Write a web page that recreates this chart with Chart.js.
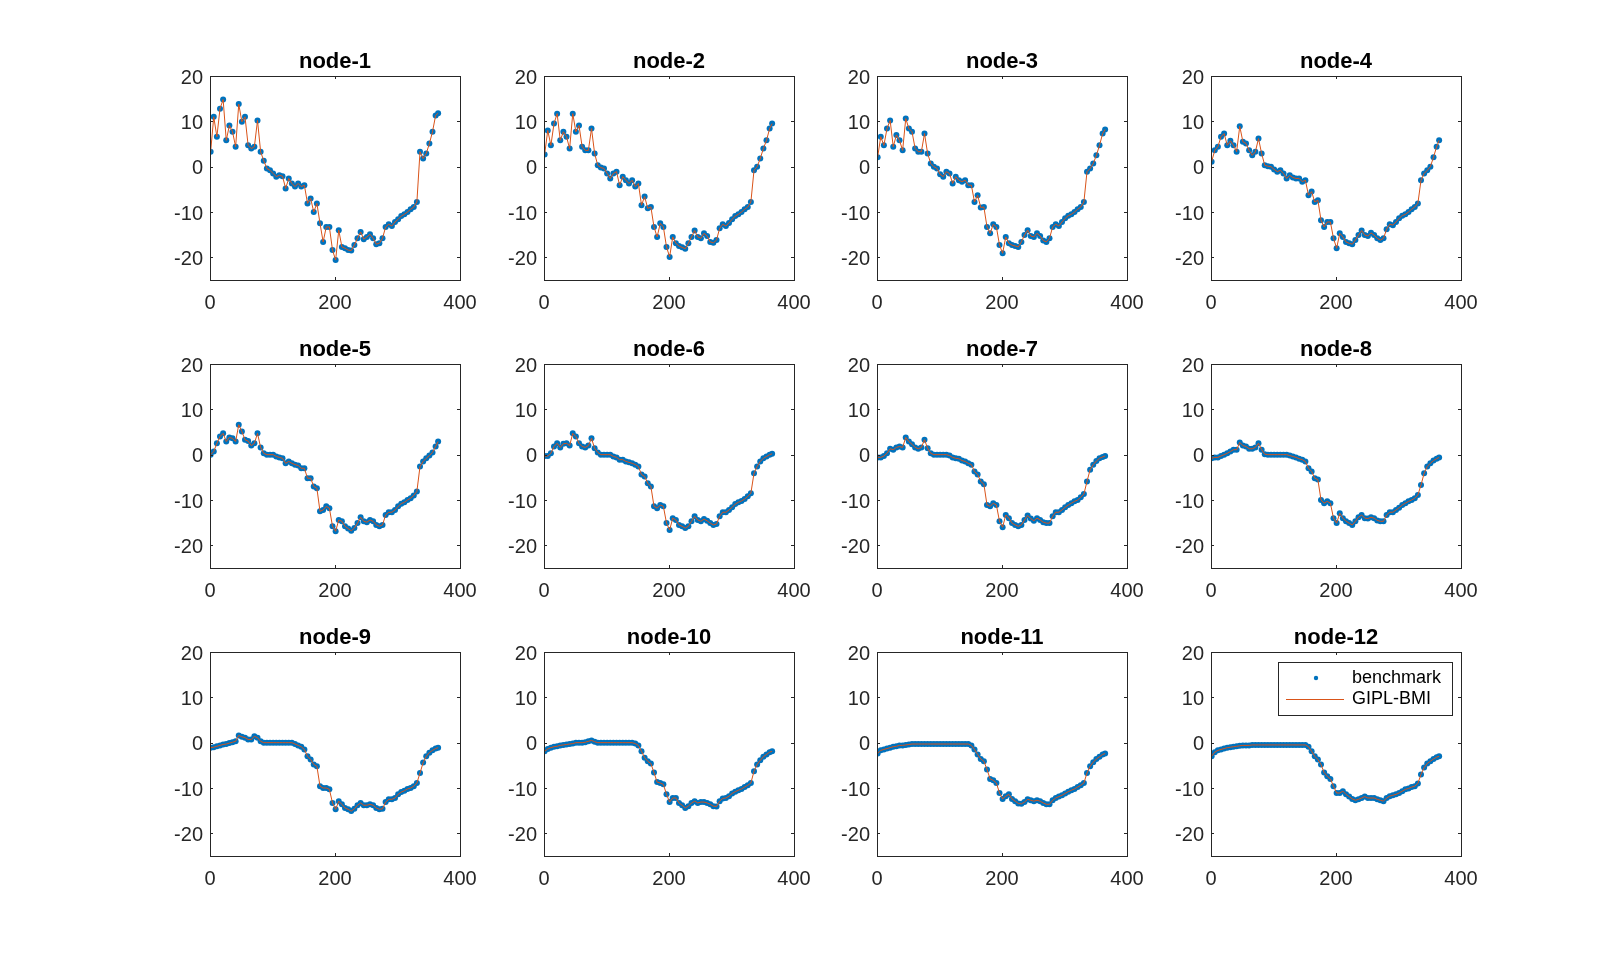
<!DOCTYPE html>
<html>
<head>
<meta charset="utf-8">
<title>node-1 ... node-12</title>
<script src="https://cdn.jsdelivr.net/npm/chart.js@4.4.1/dist/chart.umd.min.js"></script>
<style>
    html, body { margin: 0; padding: 0; background: #ffffff; }
    #figure { position: relative; width: 1618px; height: 962px; overflow: hidden; }
    #figure canvas { position: absolute; }
</style>
</head>
<body>
<div id="figure"></div>
<script>

// DAYS (x values, sampled every 5 days)
const days = [
    1, 6, 11, 16, 21, 26, 31, 36, 41, 46, 51, 56, 61, 66, 71, 76, 81, 86, 91, 96,
    101, 106, 111, 116, 121, 126, 131, 136, 141, 146, 151, 156, 161, 166, 171, 176, 181, 186, 191, 196,
    201, 206, 211, 216, 221, 226, 231, 236, 241, 246, 251, 256, 261, 266, 271, 276, 281, 286, 291, 296,
    301, 306, 311, 316, 321, 326, 331, 336, 341, 346, 351, 356, 361, 365
];

// NODE VALUES
const node1 = [
    3.3, 11, 6.6, 12.8, 14.8, 5.8, 9.1, 7.7, 4.4, 13.8,
    9.9, 11, 4.7, 4, 4.4, 10.2, 3.3, 1.3, -0.4, -0.8,
    -1.5, -2.2, -1.9, -2.1, -4.8, -2.6, -3.7, -4.4, -3.7, -4.4,
    -4.1, -8.1, -7, -10, -8.1, -12.5, -16.6, -13.3, -13.3, -18.4,
    -20.6, -14, -17.7, -18, -18.4, -18.5, -17.3, -15.8, -14.4, -16,
    -15.5, -14.9, -15.8, -17.1, -16.9, -15.8, -13.3, -12.7, -13.1, -12.2,
    -11.6, -10.9, -10.5, -10, -9.4, -8.9, -7.8, 3.3, 1.8, 2.9,
    5.1, 7.7, 11.3, 11.8
];

const node2 = [
    2.7, 8, 4.7, 9.5, 11.7, 5.8, 7.7, 6.6, 4, 11.7,
    7.7, 9.1, 4.4, 3.6, 3.6, 8.4, 2.9, 0.3, -0.2, -0.4,
    -1.5, -2.6, -1.5, -1.1, -4.1, -2.2, -3, -3.7, -3, -4.4,
    -3.7, -8.5, -6.6, -9.2, -8.9, -13.3, -15.5, -12.5, -13.3, -17.7,
    -19.9, -15.5, -16.9, -17.5, -17.8, -18.1, -16.9, -15.5, -14.1, -15.5,
    -15.8, -14.7, -15.3, -16.6, -16.8, -16.2, -13.6, -12.7, -13.1, -12.4,
    -11.6, -10.9, -10.5, -10, -9.4, -8.9, -7.8, -0.8, 0, 1.8,
    4, 5.8, 8.4, 9.5
];

const node3 = [
    2.1, 6.6, 4.7, 8.4, 10.2, 4.4, 7, 5.8, 3.6, 10.6,
    8.4, 7.7, 4, 3.3, 3.3, 7.3, 2.9, 0.7, 0, -0.4,
    -1.7, -2.2, -1.1, -1.5, -3.7, -2.2, -3, -3.3, -3, -4.1,
    -4.1, -7.8, -6.3, -9, -8.9, -13.3, -14.7, -12.7, -13.3, -17.3,
    -19.1, -15.5, -16.9, -17.3, -17.5, -17.7, -16.6, -15.1, -14, -15.3,
    -15.5, -14.7, -15.3, -16.3, -16.6, -15.8, -13.3, -12.7, -13.1, -12.2,
    -11.4, -10.8, -10.5, -10, -9.4, -8.9, -7.8, -1.1, -0.4, 0.7,
    2.5, 4.7, 7.3, 8.2
];

const node4 = [
    1.1, 3.6, 4.4, 6.6, 7.3, 4.7, 5.7, 4.7, 3.3, 8.9,
    5.5, 5.1, 3.6, 2.5, 3.3, 6.2, 2.9, 0.3, 0.1, 0,
    -0.6, -1.1, -0.8, -1.5, -2.6, -1.9, -2.4, -2.6, -2.6, -3.3,
    -3, -6.3, -5.5, -7.8, -7.4, -11.8, -13.3, -12.2, -12.2, -15.8,
    -18, -14.7, -15.5, -16.6, -16.9, -17.1, -16.2, -15.1, -14.1, -15.1,
    -15.3, -14.6, -15.1, -15.8, -16.2, -15.8, -13.8, -12.7, -12.9, -12.2,
    -11.4, -10.8, -10.5, -10, -9.4, -8.9, -8.1, -3, -1.5, -0.8,
    0, 2.1, 4.4, 5.8
];

const node5 = [
    0, 0.7, 2.5, 4, 4.7, 2.9, 3.8, 3.6, 2.9, 6.6,
    5.1, 3.3, 3, 2, 2.5, 4.7, 1.6, 0.3, 0, 0,
    0, -0.4, -0.6, -0.8, -1.9, -1.5, -1.9, -2.2, -2.4, -3,
    -3, -5.2, -5.2, -7, -7.4, -12.5, -12.2, -11.4, -11.8, -15.8,
    -16.9, -14.4, -14.7, -15.8, -16.3, -16.8, -16.2, -15.1, -13.8, -14.7,
    -14.9, -14.4, -14.7, -15.5, -15.8, -15.5, -13.3, -12.7, -12.7, -12.2,
    -11.4, -10.8, -10.5, -10, -9.6, -9, -8.1, -2.6, -1.5, -0.8,
    -0.2, 0.5, 1.8, 2.9
];

const node6 = [
    -0.3, -0.3, 0.3, 1.8, 2.5, 1.6, 2.4, 2.5, 2, 4.7,
    4, 2.5, 1.8, 1.6, 2, 3.6, 1.4, 0.5, 0, 0,
    0, 0, -0.4, -0.6, -1.1, -1.1, -1.5, -1.7, -1.9, -2.2,
    -2.6, -4.4, -4.8, -6.3, -7, -11.4, -11.8, -11.1, -11.4, -15.1,
    -16.6, -14, -14.4, -15.5, -15.8, -16.2, -15.8, -14.7, -13.6, -14.4,
    -14.7, -14.2, -14.6, -15.1, -15.5, -15.3, -13.6, -12.7, -12.7, -12.2,
    -11.6, -10.9, -10.5, -10.2, -9.8, -9.2, -8.5, -4.1, -2.6, -1.5,
    -0.8, -0.4, 0, 0.2
];

const node7 = [
    -0.6, -0.6, -0.3, 0.3, 1.3, 1.1, 1.6, 1.8, 1.6, 3.8,
    2.9, 2.3, 1.6, 1.3, 1.6, 3.3, 1.4, 0.3, 0, 0,
    0, 0, 0, -0.2, -0.6, -0.8, -0.9, -1.3, -1.5, -1.9,
    -2.2, -3.7, -4.4, -5.9, -6.5, -11.1, -11.4, -10.7, -11.1, -14.7,
    -16, -13.3, -14, -15.1, -15.5, -15.8, -15.5, -14.4, -13.4, -14.1,
    -14.6, -14, -14.4, -14.9, -15.1, -15.1, -13.6, -12.7, -12.7, -12.2,
    -11.6, -11.1, -10.7, -10.3, -10, -9.4, -8.7, -5.9, -3.3, -2.2,
    -1.4, -0.8, -0.5, -0.3
];

const node8 = [
    -0.8, -0.6, -0.6, -0.3, 0, 0.3, 0.7, 1.1, 1.1, 2.7,
    2, 1.8, 1.3, 1.3, 1.6, 2.5, 1.1, 0.1, 0, 0,
    0, 0, 0, 0, 0, -0.2, -0.4, -0.6, -0.9, -1.1,
    -1.5, -3, -3.7, -5.2, -5.5, -10, -10.7, -10.3, -10.7, -14,
    -15.1, -12.9, -14, -14.7, -15.1, -15.5, -14.7, -13.8, -13.3, -14,
    -14.1, -13.8, -14, -14.5, -14.7, -14.7, -13.3, -12.7, -12.7, -12.2,
    -11.7, -11.1, -10.7, -10.3, -10, -9.6, -8.9, -6.7, -4.1, -2.6,
    -1.9, -1.3, -0.9, -0.6
];

const node9 = [
    -1.1, -1, -0.8, -0.6, -0.4, -0.3, -0.1, 0.1, 0.3, 1.6,
    1.3, 1.1, 0.7, 0.7, 1.4, 1.1, 0.3, 0, 0, 0,
    0, 0, 0, 0, 0, 0, 0, -0.3, -0.6, -0.9,
    -1.5, -3, -3.7, -4.8, -5.2, -9.6, -10, -10, -10.3, -13.3,
    -14.7, -12.9, -13.6, -14.4, -14.7, -15.1, -14.6, -13.8, -13.3, -13.8,
    -13.8, -13.6, -13.8, -14.4, -14.7, -14.6, -13.1, -12.5, -12.5, -12.2,
    -11.4, -10.9, -10.6, -10.2, -10, -9.6, -8.9, -6.7, -4.4, -3,
    -2.2, -1.7, -1.3, -1.1
];

const node10 = [
    -1.9, -1.4, -1.1, -0.9, -0.8, -0.6, -0.5, -0.4, -0.3, -0.2,
    0, 0, 0, 0.1, 0.3, 0.5, 0.2, 0, 0, 0,
    0, 0, 0, 0, 0, 0, 0, 0, 0, -0.2,
    -0.6, -1.9, -3.3, -4.1, -4.6, -6.6, -8.7, -8.9, -9.2, -11.4,
    -13.1, -12.2, -12.2, -13.3, -13.8, -14.4, -14, -13.3, -12.9, -13.3,
    -13.1, -13.1, -13.3, -13.6, -14, -14.1, -12.9, -12.3, -12.2, -11.8,
    -11.2, -10.8, -10.5, -10.2, -9.8, -9.4, -8.9, -6.3, -4.8, -3.9,
    -3.1, -2.6, -2.1, -1.9
];

const node11 = [
    -2.4, -1.7, -1.5, -1.3, -1.1, -0.9, -0.8, -0.6, -0.6, -0.5,
    -0.4, -0.3, -0.3, -0.3, -0.3, -0.3, -0.3, -0.3, -0.3, -0.3,
    -0.3, -0.3, -0.3, -0.3, -0.3, -0.3, -0.3, -0.3, -0.3, -0.3,
    -0.6, -1.5, -2.6, -3.6, -4.1, -5.9, -8, -8.3, -8.9, -11.1,
    -12.4, -11.8, -11.4, -12.4, -12.9, -13.4, -13.5, -13.1, -12.5, -12.7,
    -12.9, -12.7, -12.9, -13.3, -13.6, -13.6, -12.7, -12.2, -11.9, -11.6,
    -11.2, -10.8, -10.5, -10.2, -9.8, -9.4, -8.9, -6.7, -5.2, -4.3,
    -3.6, -3.1, -2.6, -2.4
];

const node12 = [
    -3, -2.1, -1.7, -1.5, -1.3, -1.1, -1, -0.9, -0.8, -0.7,
    -0.6, -0.6, -0.6, -0.5, -0.5, -0.5, -0.5, -0.5, -0.5, -0.5,
    -0.5, -0.5, -0.5, -0.5, -0.5, -0.5, -0.5, -0.5, -0.5, -0.5,
    -0.5, -0.9, -1.9, -3, -3.7, -4.8, -6.6, -7.4, -8, -9.6,
    -11.1, -11.1, -10.7, -11.4, -11.9, -12.4, -12.7, -12.5, -12.2, -11.9,
    -12.2, -12.2, -12.2, -12.5, -12.7, -12.9, -12.2, -11.8, -11.6, -11.4,
    -11.1, -10.7, -10.3, -10.1, -9.8, -9.6, -9, -7, -5.5, -4.6,
    -4.1, -3.6, -3.2, -3
];

const nodeTitles = [
    'node-1', 'node-2', 'node-3', 'node-4',
    'node-5', 'node-6', 'node-7', 'node-8',
    'node-9', 'node-10', 'node-11', 'node-12'
];

const xTicks = [0, 200, 400];
const yTicks = [-20, -10, 0, 10, 20];
const seriesNames = ['benchmark', 'GIPL-BMI'];

const allNodes = [
    node1, node2, node3, node4,
    node5, node6, node7, node8,
    node9, node10, node11, node12
];

// LAYOUT (plot box corners in page pixels)
const colLefts = [210, 544, 877, 1211];
const rowTops = [76, 364, 652];
const plotW = 250;
const plotH = 204;
const padL = 60;
const padT = 45;
const padR = 40;
const padB = 40;

const FONT = "'Liberation Sans', Arial, Helvetica, sans-serif";
const AXIS_COLOR = '#262626';
const BLUE = '#0072BD';
const ORANGE = '#D95319';

// box + inward ticks, like matlab axes
const boxPlugin = {
    id: 'boxAxes',
    afterDraw(chart) {
        const ctx = chart.ctx;
        const a = chart.chartArea;
        const sx = chart.scales.x;
        const sy = chart.scales.y;
        const len = 3;

        ctx.save();
        ctx.strokeStyle = AXIS_COLOR;
        ctx.lineWidth = 1;
        ctx.beginPath();

        sx.ticks.forEach((t) => {
            const px = Math.round(sx.getPixelForValue(t.value)) + 0.5;
            ctx.moveTo(px, a.bottom);
            ctx.lineTo(px, a.bottom - len);
            ctx.moveTo(px, a.top);
            ctx.lineTo(px, a.top + len);
        });

        sy.ticks.forEach((t) => {
            const py = Math.round(sy.getPixelForValue(t.value)) + 0.5;
            ctx.moveTo(a.left, py);
            ctx.lineTo(a.left + len, py);
            ctx.moveTo(a.right, py);
            ctx.lineTo(a.right - len, py);
        });

        ctx.stroke();
        ctx.strokeRect(a.left + 0.5, a.top + 0.5, a.right - a.left, a.bottom - a.top);
        ctx.restore();
    }
};

// legend box inside the last axes
const legendPlugin = {
    id: 'boxLegend',
    afterDraw(chart, args, opts) {
        if (!opts.show) {
            return;
        }

        const ctx = chart.ctx;
        const a = chart.chartArea;
        const left = a.right - 183;
        const top = a.top + 10;

        ctx.save();
        ctx.fillStyle = '#ffffff';
        ctx.fillRect(left, top, 174, 53);
        ctx.strokeStyle = AXIS_COLOR;
        ctx.lineWidth = 1;
        ctx.strokeRect(left + 0.5, top + 0.5, 174, 53);

        // benchmark marker
        ctx.fillStyle = BLUE;
        ctx.beginPath();
        ctx.arc(left + 38, top + 16, 2.2, 0, Math.PI * 2);
        ctx.fill();

        // GIPL-BMI line
        ctx.strokeStyle = ORANGE;
        ctx.beginPath();
        ctx.moveTo(left + 8, top + 37.5);
        ctx.lineTo(left + 66, top + 37.5);
        ctx.stroke();

        ctx.fillStyle = '#000000';
        ctx.font = '18px ' + FONT;
        ctx.textAlign = 'left';
        ctx.textBaseline = 'middle';
        ctx.fillText(seriesNames[0], left + 74, top + 16);
        ctx.fillText(seriesNames[1], left + 74, top + 37);
        ctx.restore();
    }
};

const figure = document.getElementById('figure');

allNodes.forEach((values, i) => {

    const col = i % 4;
    const row = Math.floor(i / 4);

    const canvas = document.createElement('canvas');
    canvas.width = padL + plotW + padR;
    canvas.height = padT + plotH + padB;
    canvas.style.left = (colLefts[col] - padL) + 'px';
    canvas.style.top = (rowTops[row] - padT) + 'px';
    figure.appendChild(canvas);

    const points = days.map((d, k) => ({ x: d, y: values[k] }));

    new Chart(canvas.getContext('2d'), {

        type: 'scatter',

        data: {
            datasets: [
                {
                    label: seriesNames[0],
                    data: points,
                    showLine: false,
                    pointRadius: 3,
                    pointBorderWidth: 0,
                    backgroundColor: BLUE,
                    borderColor: BLUE,
                    order: 1
                },
                {
                    label: seriesNames[1],
                    data: points,
                    showLine: true,
                    pointRadius: 0,
                    borderWidth: 1,
                    borderColor: ORANGE,
                    backgroundColor: ORANGE,
                    order: 0
                }
            ]
        },

        options: {
            responsive: false,
            animation: false,
            devicePixelRatio: 1,
            events: [],

            layout: {
                padding: { left: 0, top: 0, right: padR, bottom: 0 }
            },

            plugins: {
                legend: { display: false },
                tooltip: { enabled: false },
                title: {
                    display: true,
                    fullSize: false,
                    text: nodeTitles[i],
                    color: '#000000',
                    font: { family: FONT, size: 22, weight: 'bold', lineHeight: 1 },
                    padding: { top: 20, bottom: 3 }
                },
                boxLegend: { show: i === 11 }
            },

            scales: {
                x: {
                    type: 'linear',
                    min: 0,
                    max: 400,
                    afterBuildTicks: (s) => { s.ticks = xTicks.map((v) => ({ value: v })); },
                    afterFit: (s) => { s.height = padB; },
                    grid: { display: false, drawTicks: false },
                    border: { display: false },
                    ticks: {
                        padding: 11,
                        color: AXIS_COLOR,
                        maxRotation: 0,
                        autoSkip: false,
                        font: { family: FONT, size: 20 }
                    }
                },
                y: {
                    type: 'linear',
                    min: -25,
                    max: 20,
                    afterBuildTicks: (s) => { s.ticks = yTicks.map((v) => ({ value: v })); },
                    afterFit: (s) => { s.width = padL; },
                    grid: { display: false, drawTicks: false },
                    border: { display: false },
                    ticks: {
                        padding: 7,
                        labelOffset: 2,
                        color: AXIS_COLOR,
                        autoSkip: false,
                        font: { family: FONT, size: 20 }
                    }
                }
            }
        },

        plugins: [boxPlugin, legendPlugin]
    });
});

</script>
</body>
</html>
